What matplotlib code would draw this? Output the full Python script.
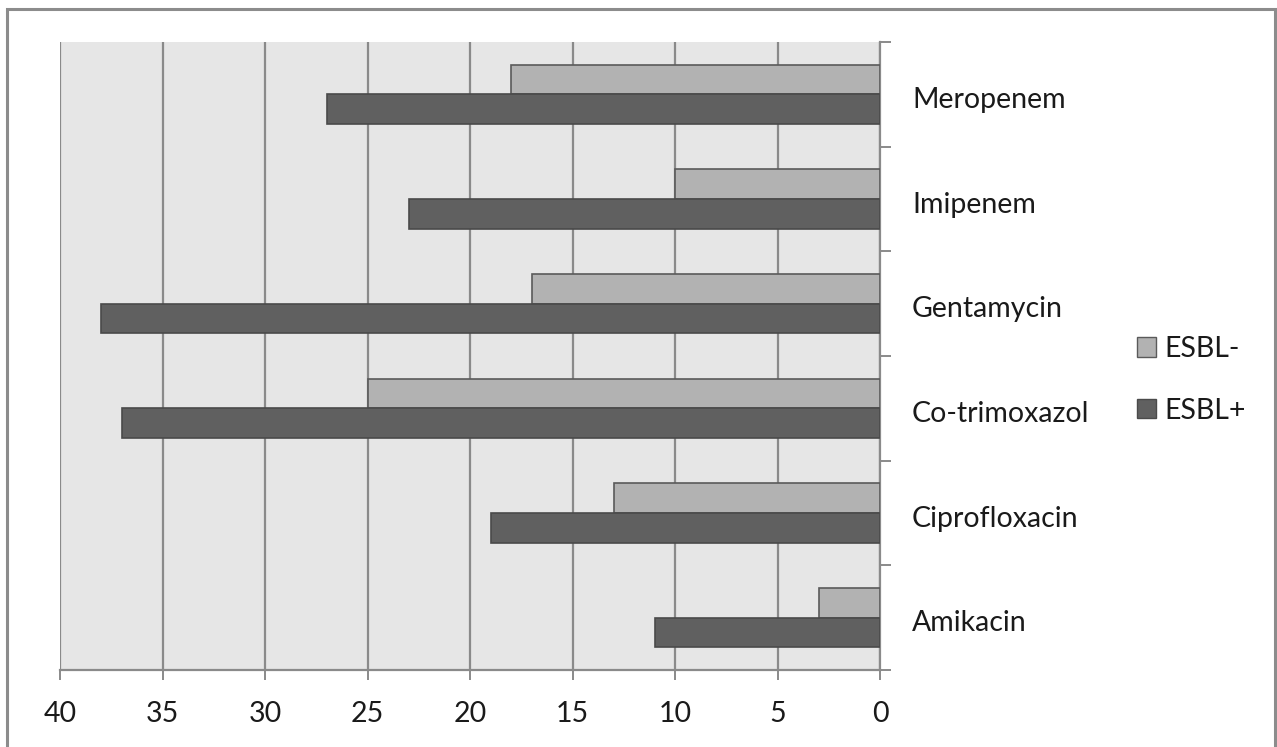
import matplotlib
matplotlib.use("Agg")
import matplotlib.pyplot as plt
import matplotlib.transforms as mtransforms
from matplotlib.patches import Rectangle, Patch
import numpy as np

categories = ["Amikacin", "Ciprofloxacin", "Co-trimoxazol", "Gentamycin", "Imipenem", "Meropenem"]
esbl_neg = [3, 13, 25, 17, 10, 18]
esbl_pos = [11, 19, 37, 38, 23, 27]
series_names = ["ESBL-", "ESBL+"]
x_ticks = [0, 5, 10, 15, 20, 25, 30, 35, 40]

W, H = 1277, 747
fig = plt.figure(figsize=(W / 100, H / 100), dpi=100)
plt.rcParams["font.family"] = ["Lato", "DejaVu Sans"]
FS = 20.5
TXT = "#1a1a1a"

# outer chart frame
fig.patches.append(Rectangle((7 / W, -0.05), (1275 - 7) / W, 1.05 - 9 / H,
                             transform=fig.transFigure, fill=False,
                             edgecolor="#8c8c8c", linewidth=2.2))

ax = fig.add_axes([60 / W, 1 - 670 / H, (880 - 60) / W, (670 - 42) / H])
ax.set_facecolor("#e6e6e6")

y = np.arange(len(categories))
h = 0.282
ax.barh(y + h / 2, esbl_neg, height=h, color="#b2b2b2", edgecolor="#5a5a5a",
        linewidth=1.2, label=series_names[0], zorder=3)
ax.barh(y - h / 2, esbl_pos, height=h, color="#606060", edgecolor="#4a4a4a",
        linewidth=1.2, label=series_names[1], zorder=3)

ax.set_xlim(40, 0)
ax.set_ylim(-0.5, len(categories) - 0.5)
ax.set_xticks(x_ticks)
ax.set_xticklabels([str(t) for t in x_ticks], fontsize=FS, color=TXT)
ax.xaxis.grid(True, color="#8a8a8a", linewidth=1.6, zorder=1)
ax.set_axisbelow(True)

# category boundaries as ticks on the right side
ax.yaxis.tick_right()
ax.set_yticks(np.arange(-0.5, len(categories)), minor=False)
ax.set_yticklabels([])
ax.set_yticks(y, minor=True)
ax.set_yticklabels(categories, minor=True, fontsize=FS, color=TXT, ha="left")
ax.tick_params(axis="y", which="major", direction="out", length=8, width=1.4,
               color="#8a8a8a", right=True, left=False)
ax.tick_params(axis="y", which="minor", length=0, pad=23, right=True, left=False)
ax.tick_params(axis="x", direction="out", length=7.5, width=1.4, color="#8a8a8a", pad=15)

# nudge category names slightly below the group centre
shift = mtransforms.ScaledTranslation(0, -3 / 100, fig.dpi_scale_trans)
for lbl in ax.get_yticklabels(minor=True):
    lbl.set_transform(lbl.get_transform() + shift)

for side in ["top", "left"]:
    ax.spines[side].set_visible(False)
for side in ["right", "bottom"]:
    ax.spines[side].set_color("#8a8a8a")
    ax.spines[side].set_linewidth(1.6)

handles = [Patch(facecolor="#b2b2b2", edgecolor="#5a5a5a", label=series_names[0]),
           Patch(facecolor="#606060", edgecolor="#4a4a4a", label=series_names[1])]
leg = fig.legend(handles=handles, loc="upper left", bbox_to_anchor=(1137 / W, 1 - 336 / H),
                 frameon=False, fontsize=FS, handlelength=0.66, handleheight=0.66,
                 handletextpad=0.3, labelspacing=1.25, borderpad=0, borderaxespad=0)
for t in leg.get_texts():
    t.set_color(TXT)

fig.savefig("out.png", dpi=100)
